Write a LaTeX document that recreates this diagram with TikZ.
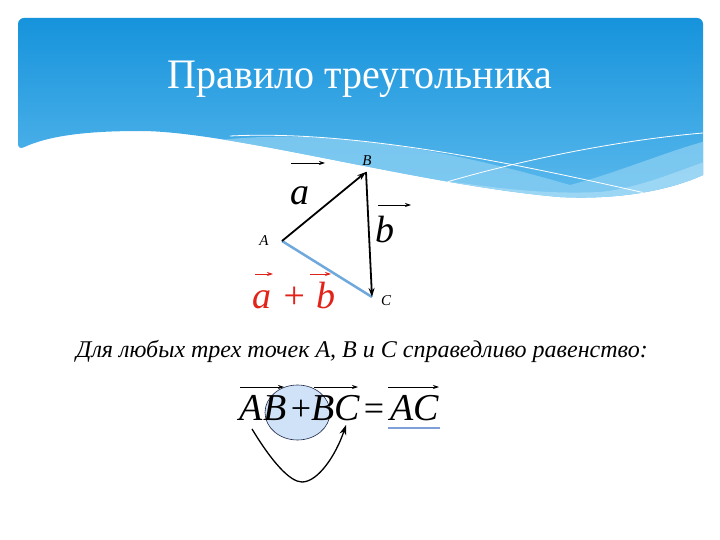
\documentclass[tikz,border=0pt]{standalone}
\usepackage{fontspec}
\setmainfont{Liberation Serif}
\usetikzlibrary{arrows.meta,shapes.geometric}
\definecolor{hdtop}{HTML}{1693DC}
\definecolor{hdbot}{HTML}{5BB9EC}
\definecolor{band}{HTML}{86CDF2}
\definecolor{bandlt}{HTML}{A9DCF6}
\definecolor{sumred}{HTML}{E2231A}
\definecolor{sumblue}{HTML}{6FA8DC}
\definecolor{circfill}{HTML}{CFE2F8}
\definecolor{circline}{HTML}{1F2A4A}
\definecolor{ulblue}{HTML}{7F9FD8}
\tikzset{
  vec/.style={line width=1.8pt,-{Stealth[length=9pt,width=6pt]}},
  smallvec/.style={line width=0.8pt,-{Stealth[length=6pt,width=4pt]}},
  ptlabel/.style={font=\fontsize{15}{15}\selectfont\itshape},
  biglet/.style={font=\fontsize{38}{38}\selectfont\itshape},
}
\begin{document}
\begin{tikzpicture}[x=1pt,y=-1pt]
\useasboundingbox (0,0) rectangle (720,540);
\fill[white] (0,0) rectangle (720,540);
% header
\def\hdpath{(703,175) [rounded corners=6pt] -- (703,18) -- (18,18) -- (18,150) [sharp corners] .. controls (50,135) and (90,131) .. (140,131) .. controls (230,131) and (420,185) .. (560,197) .. controls (620,200) and (670,190) .. (703,175) -- cycle}
\shade[top color=hdtop, bottom color=hdbot] \hdpath;
\begin{scope}
\clip \hdpath;
\fill[band, opacity=0.8] (220,140) .. controls (330,128) and (450,150) .. (570,185) .. controls (620,172) and (670,150) .. (710,140) -- (710,260) -- (220,260) -- cycle;
\fill[bandlt, opacity=0.7] (400,175) .. controls (480,185) and (530,195) .. (600,192) .. controls (640,188) and (680,170) .. (710,160) -- (710,260) -- (400,260) -- cycle;
\draw[white, line width=0.8pt] (230,136) .. controls (350,130) and (500,160) .. (645,193);
\draw[white, line width=0.8pt] (440,184) .. controls (520,160) and (620,140) .. (703,133);
\end{scope}
\node[text=white, font=\fontsize{40}{40}\selectfont, yscale=1.05] (title) at (360,79) {Правило треугольника};
% triangle
\coordinate (A) at (282,241);
\coordinate (B) at (366,172);
\coordinate (C) at (372,297);
\draw[sumblue, line width=2.5pt] (A) -- (C);
\draw[vec] (A) -- (B);
\draw[vec] (B) -- (C);
\node[ptlabel] (lA) at (264,241) {A};
\node[ptlabel] (lB) at (367,161) {B};
\node[ptlabel] (lC) at (386,301) {C};
\node[biglet, anchor=base] (la) at (300,205) {a};
\draw[smallvec] (291,163) -- (325,163);
\node[biglet, anchor=base] (lb) at (385,243) {b};
\draw[smallvec] (378,205) -- (411,205);
\node[biglet, text=sumred, anchor=base] (sum) at (294,308) {a + b};
\draw[smallvec, sumred] (255,274) -- (273,274);
\draw[smallvec, sumred] (310,274) -- (331,274);
% statement
\node[font=\fontsize{24}{24}\selectfont\itshape] (stmt) at (362,351) {Для любых трех точек A, B и C справедливо равенство:};
% equation
\draw[fill=circfill, draw=circline, line width=0.6pt] (297.5,412.5) ellipse [x radius=32.5, y radius=27.5];
\node[biglet, anchor=base, inner sep=0pt] (eAB) at (263,420) {AB};
\node[font=\fontsize{36}{36}\selectfont, anchor=base, inner sep=0pt] (ePlus) at (301,420) {+};
\node[biglet, anchor=base, inner sep=0pt] (eBC) at (336,420) {BC};
\node[font=\fontsize{36}{36}\selectfont, anchor=base, inner sep=0pt] (eEq) at (374,420) {=};
\node[biglet, anchor=base, inner sep=0pt] (eAC) at (415,420) {AC};
\draw[smallvec] (240,387) -- (284,387);
\draw[smallvec] (314,387) -- (358,387);
\draw[smallvec] (388,387) -- (439,387);
\draw[ulblue, line width=2pt] (388,428) -- (440,428);
\coordinate (cs) at (252,429);
\coordinate (ce) at (346,425);
\draw[line width=1.3pt, -{Stealth[length=10pt,width=7pt]}] (cs) .. controls (272,462) and (290,482) .. (302,482) .. controls (318,482) and (336,455) .. (ce);
\end{tikzpicture}
\end{document}
